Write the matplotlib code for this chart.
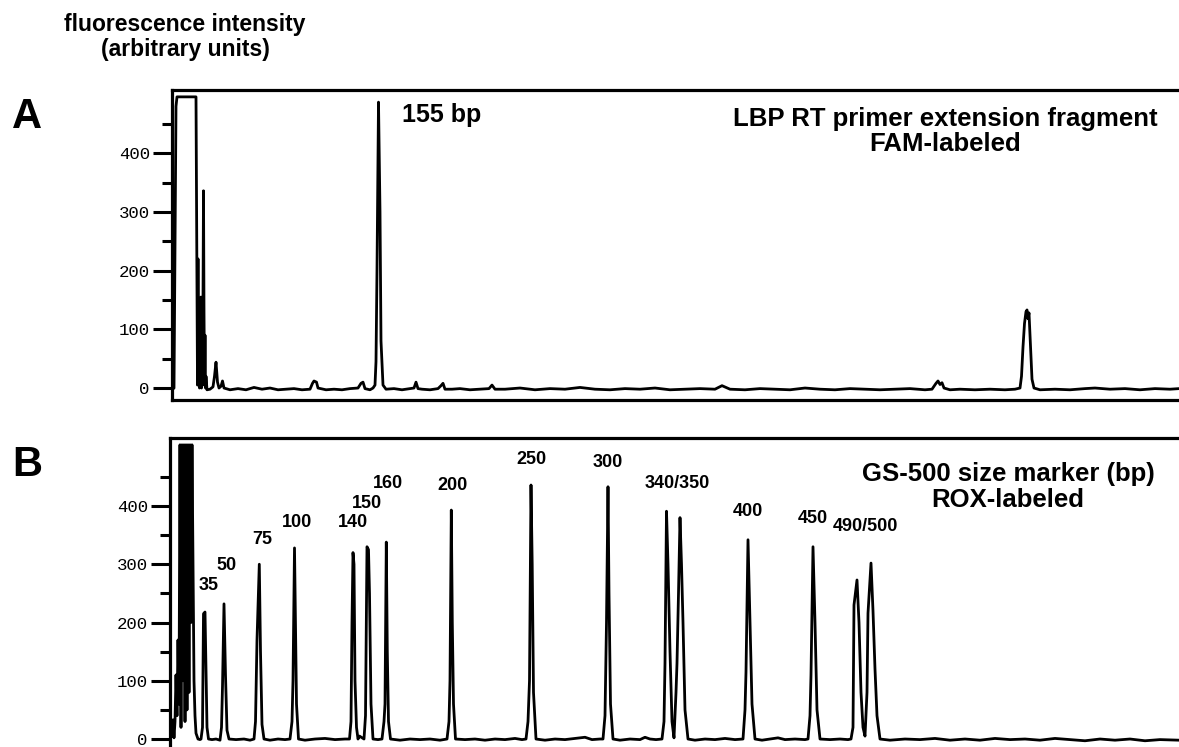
import matplotlib
matplotlib.use("Agg")
import matplotlib.pyplot as plt
import numpy as np

plt.rcParams['font.family'] = ['Liberation Sans', 'DejaVu Sans']

# panel A trace (scan position, fluorescence)
trace_a_x = [172, 174, 176, 177, 196, 196.5, 197, 197.5, 198, 198.5,
             199, 199.5, 200, 200.5, 201, 201.5, 202, 202.5, 203, 203.5,
             204, 204.5, 205, 205.5, 206, 207, 210, 213, 214.5, 216,
             217.5, 219, 221, 222.5, 224, 230, 238, 246, 254, 262,
             270, 278, 286, 294, 302, 310, 312.5, 314, 316.5, 318,
             326, 334, 342, 350, 358, 361, 363, 365, 370, 373,
             375, 376, 377, 378.5, 380, 381, 383, 386, 394, 402,
             410, 414, 416, 418, 422, 430, 438, 441, 443, 445,
             452, 460, 470, 480, 489, 492, 495, 505, 520, 535,
             550, 565, 580, 595, 610, 625, 640, 655, 670, 685,
             700, 715, 722, 730, 745, 760, 775, 790, 805, 820,
             835, 850, 865, 880, 895, 910, 925, 932, 936, 938,
             940, 942, 944, 950, 960, 975, 990, 1005, 1015, 1020,
             1021.5, 1023, 1024.5, 1026, 1027, 1028, 1029, 1030.5, 1032, 1034,
             1040, 1055, 1070, 1085, 1095, 1110, 1125, 1140, 1155, 1170,
             1179]
trace_a_y = [-3, 0, 480, 496, 496, 330, 150, 5, 220, 10,
             150, 0, 140, 5, 155, 0, 60, 5, 150, 336,
             130, 5, 90, 0, 20, -3, -2, 2, 20, 44,
             10, 0, 3, 12, 0, -3, -1, -3, 1, -2,
             0, -3, -2, -1, -3, -2, 8, 12, 10, 0,
             -3, -2, -3, -1, 0, 8, 10, -1, -3, 0,
             5, 45, 200, 487, 300, 80, 5, -2, -1, -3,
             -1, 0, 10, -1, -2, -3, -1, 4, 8, -2,
             -2, -1, -3, -2, -1, 5, -2, -2, 0, -3,
             -1, -2, 1, -2, -3, -1, -2, 0, -3, -2,
             -1, -2, 4, -2, -3, -1, -2, -3, 0, -2,
             -3, -1, -2, -3, -2, -1, -3, -2, 8, 12,
             6, 9, 0, -3, -2, -3, -2, -3, -2, 0,
             20, 70, 110, 130, 133, 118, 128, 70, 15, 0,
             -3, -2, -3, -1, 0, -2, -1, -3, -1, -2,
             -1]

# panel B trace (GS-500 size marker)
trace_b_x = [170, 171, 172, 173, 174, 175, 176, 177, 178, 179,
             180, 181, 182, 183, 184, 185, 186, 187, 188, 189,
             190, 191, 192, 193, 194, 195, 196, 198, 200, 201,
             202.5, 203.5, 205, 206, 207, 208.5, 212, 216, 220, 221.5,
             222.5, 224, 225.5, 227, 229, 236, 244, 250, 254, 255.5,
             257, 259.3, 260.5, 262, 264, 270, 278, 285, 290, 292,
             293, 294.5, 295.5, 296.5, 298.5, 305, 315, 325, 335, 345,
             349.5, 351, 352, 353, 354, 355, 356.5, 358, 359.5, 364,
             365.5, 367, 368.5, 369.5, 371, 373, 378, 382, 384, 385,
             386.3, 387.3, 388.5, 390.5, 400, 410, 420, 430, 440, 447,
             449, 450, 451.3, 452.3, 453.5, 455.5, 465, 475, 485, 495,
             505, 515, 522, 526, 528, 529.5, 531, 532.2, 533.5, 536,
             545, 555, 565, 575, 585, 592, 600, 603, 605, 606.5,
             608, 609, 610.5, 613, 620, 630, 640, 645, 650, 656,
             662, 664, 665, 666.5, 668, 670, 672, 674, 676, 677,
             678.5, 680, 681.5, 683, 685, 688, 695, 705, 715, 725,
             735, 743, 745, 746, 748, 750, 752, 755, 762, 770,
             778, 785, 795, 805, 808, 810, 811, 813, 815, 817,
             820, 830, 840, 848, 851, 853, 854, 857, 859, 861,
             863, 865, 867, 868, 871, 873, 875, 877, 880, 890,
             905, 920, 935, 950, 965, 980, 995, 1010, 1025, 1040,
             1055, 1070, 1085, 1100, 1115, 1130, 1145, 1160, 1179]
trace_b_y = [0, 30, 5, 33, 2, 30, 110, 40, 170, 60,
             505, 20, 505, 100, 505, 30, 505, 50, 505, 80,
             505, 200, 505, 300, 100, 40, 10, 0, -1, 0,
             20, 215, 218, 120, 20, 0, -1, 0, -2, 20,
             90, 232, 110, 15, 0, -1, 0, -2, 0, 30,
             170, 300, 150, 25, 0, -2, 0, -1, 0, 30,
             100, 328, 200, 60, 0, -2, 0, 1, -1, 0,
             0, 30, 200, 320, 300, 100, 20, 0, 5, 0,
             40, 330, 325, 250, 60, 0, -1, 0, 30, 60,
             338, 150, 30, 0, -2, 0, -1, 0, -2, 0,
             30, 100, 393, 200, 60, 0, -1, 0, -2, 0,
             -1, 1, -1, 0, 30, 100, 436, 300, 80, 0,
             -2, 0, -1, 1, 3, -1, 0, 0, 40, 200,
             433, 250, 60, 0, -2, 0, -1, 3, 0, -1,
             0, 30, 130, 391, 300, 150, 30, 2, 80, 130,
             250, 380, 300, 200, 50, 0, -2, 0, -1, 1,
             -1, 0, 50, 115, 342, 200, 60, 0, -2, 0,
             2, -1, 0, -1, 0, 40, 110, 330, 200, 50,
             0, -1, 0, -1, 0, 20, 230, 273, 200, 80,
             20, 5, 80, 216, 302, 220, 120, 40, 0, -2,
             0, -1, 1, -2, 0, -2, 1, -1, 0, -2,
             1, -1, -3, 0, -2, 0, -3, -1, -2]

# size marker labels: text, x, y
marker_labels = ['35', '50', '75', '100', '140', '150', '160', '200', '250',
                 '300', '340/350', '400', '450', '490/500']
marker_label_x = [209, 226, 262, 297, 353, 367, 388, 452, 531,
                  608, 677, 748, 813, 865]
marker_label_y = [264, 297, 343, 372, 371, 405, 439, 436, 479,
                  474, 438, 391, 378, 364]

y_major = [0, 100, 200, 300, 400]
y_minor = [50, 150, 250, 350, 450]


def style_axis(ax, xlim, ylim, show_bottom):
    ax.set_xlim(*xlim)
    ax.set_ylim(*ylim)
    ax.spines['right'].set_visible(False)
    ax.spines['bottom'].set_visible(show_bottom)
    for s in ['left', 'top', 'bottom']:
        ax.spines[s].set_linewidth(2.3)
    ax.set_xticks([])
    ax.set_yticks(y_major)
    ax.set_yticks(y_minor, minor=True)
    ax.set_yticklabels([str(v) for v in y_major])
    ax.tick_params(axis='y', which='major', length=14, width=2.2, pad=2,
                   labelsize=12.5)
    ax.tick_params(axis='y', which='minor', length=7, width=2.2)
    for lab in ax.get_yticklabels():
        lab.set_fontfamily('Liberation Mono')


W, H = 1179, 747
fig = plt.figure(figsize=(W / 100, H / 100), dpi=100)

ax_a = fig.add_axes([172 / W, 1 - 400 / H, 1 - 172 / W, 310 / H])
ax_b = fig.add_axes([170 / W, 0, 1 - 170 / W, 1 - 438 / H])

ax_a.plot(trace_a_x, trace_a_y, color='black', lw=2.0)
style_axis(ax_a, (172, 1179), (-20.4, 507.7), True)
ax_a.text(402, 465, '155 bp', fontsize=18, fontweight='bold',
          ha='left', va='center')
ax_a.text(945, 437, 'LBP RT primer extension fragment\nFAM-labeled',
          fontsize=18.5, fontweight='bold', ha='center', va='center',
          linespacing=1.1)

ax_b.plot(trace_b_x, trace_b_y, color='black', lw=2.0)
style_axis(ax_b, (170, 1179), (-13.7, 516.7), False)
for lab, x, y in zip(marker_labels, marker_label_x, marker_label_y):
    ax_b.text(x, y, lab, fontsize=13, fontweight='bold',
              ha='center', va='center')
ax_b.text(1008, 433, 'GS-500 size marker (bp)\nROX-labeled',
          fontsize=18.5, fontweight='bold', ha='center', va='center',
          linespacing=1.1)

fig.text(27 / W, 1 - 117 / H, 'A', fontsize=30, fontweight='bold',
         ha='center', va='center')
fig.text(27 / W, 1 - 465 / H, 'B', fontsize=30, fontweight='bold',
         ha='center', va='center')
fig.text(185 / W, 1 - 37 / H, 'fluorescence intensity\n(arbitrary units)',
         fontsize=16.5, fontweight='bold', ha='center', va='center',
         linespacing=1.15)

fig.savefig('out.png', dpi=100)
